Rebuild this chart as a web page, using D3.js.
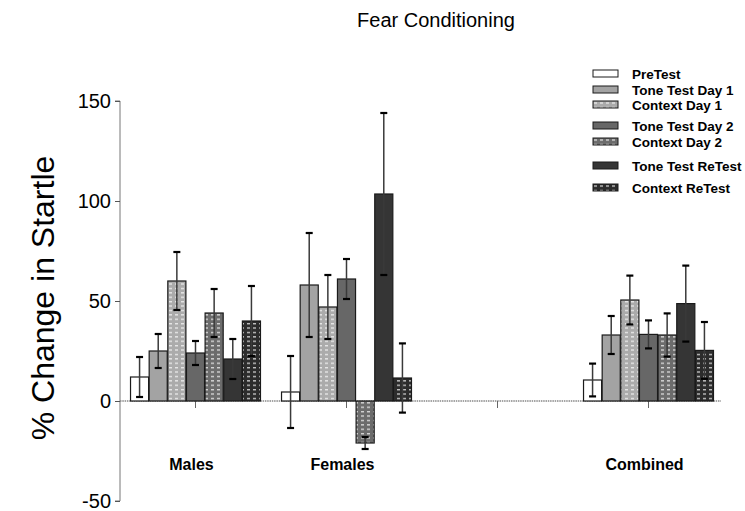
<!DOCTYPE html>
<html>
<head>
<meta charset="utf-8">
<script src="https://cdn.jsdelivr.net/npm/d3@7"></script>
<style>
  body { margin: 0; background: #fff; }
  svg { font-family: "Liberation Sans", Arial, sans-serif; }
</style>
</head>
<body>
<div id="chart"></div>
<script>
// groups along the x axis (third slot is an empty gap in the original)
const groups = ["Males", "Females", "", "Combined"];
const series = ["PreTest", "Tone Test Day 1", "Context Day 1", "Tone Test Day 2",
                "Context Day 2", "Tone Test ReTest", "Context ReTest"];

const males        = [12, 25, 60, 24, 44, 21, 40];
const malesErr     = [10, 8.5, 14.5, 6, 12, 10, 17.5];
const females      = [4.5, 58, 47, 61, -21, 103.5, 11.5];
const femalesErr   = [18, 26, 16, 10, 3, 40.5, 17.3];
const combined     = [10.5, 33, 50.5, 33.3, 33, 48.7, 25.3];
const combinedErr  = [8.2, 9.5, 12.2, 7, 10.8, 19, 14.2];

const yTicks = [-50, 0, 50, 100, 150];

const groupData = {
  "Males":    { v: males,    e: malesErr },
  "Females":  { v: females,  e: femalesErr },
  "Combined": { v: combined, e: combinedErr }
};

const fills   = ["#ffffff", "#a3a3a3", "#ababab", "#676767", "#6c6c6c", "#353535", "#2c2c2c"];
const dotted  = [false, false, true, false, true, false, true];
const legendY = [74, 90, 105, 126, 142, 166, 188];

const W = 745, H = 511;
const svg = d3.select("#chart").append("svg")
  .attr("width", W).attr("height", H);

// white dash pattern for the "Context" bars
const defs = svg.append("defs");
dotted.forEach((d, i) => {
  if (!d) return;
  const p = defs.append("pattern")
    .attr("id", "pat" + i)
    .attr("patternUnits", "userSpaceOnUse")
    .attr("width", 6).attr("height", 4.4);
  p.append("rect").attr("width", 6).attr("height", 4.4).attr("fill", fills[i]);
  p.append("rect").attr("x", 1).attr("y", 2).attr("width", 3).attr("height", 1).attr("fill", "#fff");
});
const fillOf = i => dotted[i] ? `url(#pat${i})` : fills[i];

const x0 = d3.scaleBand().domain(groups).range([120, 724])
  .paddingInner(0.132).paddingOuter(0.066);
const x1 = d3.scaleBand().domain(series).range([0, x0.bandwidth()]).padding(0.03);
const y = d3.scaleLinear().domain([-50, 150]).range([501, 101]);

// title
svg.append("text")
  .attr("x", 436).attr("y", 27)
  .attr("text-anchor", "middle")
  .attr("font-size", 20)
  .text("Fear Conditioning");

// y axis label
svg.append("text")
  .attr("transform", `translate(54,${298}) rotate(-90)`)
  .attr("text-anchor", "middle")
  .attr("font-size", 32)
  .text("% Change in Startle");

// y axis
const yAxis = svg.append("g")
  .attr("transform", "translate(120,0)")
  .call(d3.axisLeft(y).tickValues(yTicks).tickFormat(d => String(d)).tickSize(5).tickPadding(4));
yAxis.select(".domain").attr("stroke", "#777").attr("d", `M-5,${y(150)}H0V${y(-50)}H-5`);
yAxis.selectAll(".tick line").attr("stroke", "#555");
yAxis.selectAll(".tick text")
  .attr("font-size", 20).attr("fill", "#000")
  .attr("font-family", "Liberation Sans, Arial, sans-serif");

// zero line with ticks under each group
svg.append("line")
  .attr("x1", 120).attr("x2", 721)
  .attr("y1", y(0)).attr("y2", y(0))
  .attr("stroke", "#888").attr("stroke-width", 1.6)
  .attr("stroke-dasharray", "1.5,0.8");
svg.selectAll(".gtick").data(groups).enter().append("line")
  .attr("x1", d => x0(d) + x0.bandwidth() / 2)
  .attr("x2", d => x0(d) + x0.bandwidth() / 2)
  .attr("y1", y(0)).attr("y2", y(0) + 7)
  .attr("stroke", "#666").attr("stroke-width", 1);

// bars
const bars = [];
groups.forEach(g => {
  const gd = groupData[g];
  if (!gd) return;
  series.forEach((s, i) => bars.push({ g, s, i, v: gd.v[i], e: gd.e[i] }));
});

svg.selectAll(".bar").data(bars).enter().append("rect")
  .attr("x", d => x0(d.g) + x1(d.s))
  .attr("width", x1.bandwidth())
  .attr("y", d => y(Math.max(0, d.v)))
  .attr("height", d => Math.abs(y(d.v) - y(0)))
  .attr("fill", d => fillOf(d.i))
  .attr("stroke", "#1a1a1a").attr("stroke-width", 1.2);

// error bars
const cx = d => x0(d.g) + x1(d.s) + x1.bandwidth() / 2;
const eb = svg.selectAll(".err").data(bars).enter().append("g");
eb.append("line")
  .attr("x1", cx).attr("x2", cx)
  .attr("y1", d => y(d.v + d.e)).attr("y2", d => y(d.v - d.e))
  .attr("stroke", "#3a3a3a").attr("stroke-width", 1.5);
[1, -1].forEach(sign => {
  eb.append("line")
    .attr("x1", d => cx(d) - 3.5).attr("x2", d => cx(d) + 3.5)
    .attr("y1", d => y(d.v + sign * d.e)).attr("y2", d => y(d.v + sign * d.e))
    .attr("stroke", "#000").attr("stroke-width", 2.2);
});

// group labels
svg.selectAll(".glabel").data(groups.filter(g => g)).enter().append("text")
  .attr("x", d => x0(d) + x0.bandwidth() / 2 - 4)
  .attr("y", 470)
  .attr("text-anchor", "middle")
  .attr("font-size", 16).attr("font-weight", "bold")
  .text(d => d);

// legend
const lg = svg.selectAll(".leg").data(series).enter().append("g")
  .attr("transform", (d, i) => `translate(593,${legendY[i]})`);
lg.append("rect")
  .attr("x", 0).attr("y", -4).attr("width", 25).attr("height", 7)
  .attr("fill", (d, i) => fillOf(i))
  .attr("stroke", "#1a1a1a").attr("stroke-width", 1);
lg.append("text")
  .attr("x", 39).attr("y", 4.5)
  .attr("font-size", 13.5).attr("font-weight", "bold")
  .text(d => d);
</script>
</body>
</html>
